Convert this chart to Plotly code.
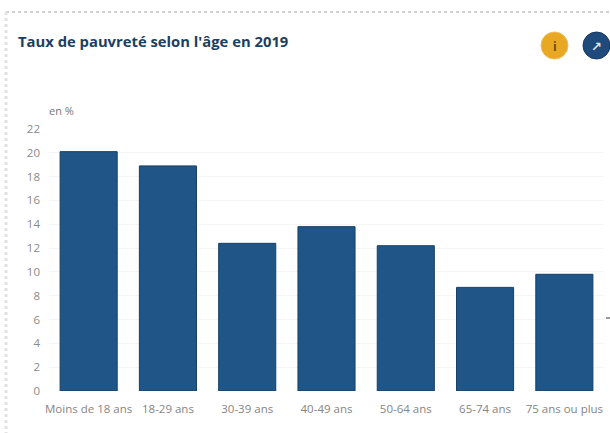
import plotly.graph_objects as go

categories = ["Moins de 18 ans", "18-29 ans", "30-39 ans", "40-49 ans",
              "50-64 ans", "65-74 ans", "75 ans ou plus"]
taux = [20.1, 18.9, 12.4, 13.8, 12.2, 8.7, 9.8]
ticks = list(range(0, 23, 2))

W, H = 610, 433
L, R, T, B = 49, 6, 129, 42


# Convert page pixels into the plot-area fractions used by paper references
def px(x):
    return (x - L) / (W - L - R)


def py(y):
    return 1 - (y - T) / (H - T - B)


fig = go.Figure(go.Bar(
    x=categories, y=taux, width=0.72,
    marker=dict(color="#1f5687", line=dict(color="#163f66", width=1)),
))

shapes = [
    # card border, top and left edges
    dict(type="line", xref="paper", yref="paper", x0=px(6), x1=px(610), y0=py(12), y1=py(12),
         line=dict(color="#d2d2d2", width=2, dash="dot")),
    dict(type="line", xref="paper", yref="paper", x0=px(6), x1=px(6), y0=py(12), y1=py(433),
         line=dict(color="#e2e2e2", width=3, dash="dot")),
    # info and link buttons
    dict(type="circle", xref="paper", yref="paper", x0=px(541), x1=px(568), y0=py(32), y1=py(59),
         fillcolor="#e8a823", line=dict(color="#efbd55", width=1)),
    dict(type="circle", xref="paper", yref="paper", x0=px(583), x1=px(610), y0=py(32), y1=py(59),
         fillcolor="#1f4a7c", line=dict(color="#153a63", width=1)),
    # small mark on the right edge
    dict(type="line", xref="paper", yref="paper", x0=px(606), x1=px(610), y0=py(318), y1=py(318),
         line=dict(color="#333333", width=1)),
]

annotations = [
    dict(text="<b>Taux de pauvreté selon l'âge en 2019</b>", x=px(16), y=py(41), xref="paper", yref="paper",
         xanchor="left", yanchor="middle", showarrow=False,
         font=dict(family="Open Sans", size=14.8, color="#1c3f5f")),
    dict(text="en %", x=px(47), y=py(110), xref="paper", yref="paper",
         xanchor="left", yanchor="middle", showarrow=False,
         font=dict(family="Open Sans", size=11, color="#767676")),
    dict(text="<b>i</b>", x=px(554.5), y=py(46), xref="paper", yref="paper",
         xanchor="center", yanchor="middle", showarrow=False,
         font=dict(family="Open Sans", size=12, color="#6b4c10")),
    dict(text="<b>↗</b>", x=px(596.5), y=py(46), xref="paper", yref="paper",
         xanchor="center", yanchor="middle", showarrow=False,
         font=dict(family="DejaVu Sans", size=13, color="#dbe6f0")),
]

fig.update_layout(
    width=W, height=H, margin=dict(l=L, r=R, t=T, b=B),
    paper_bgcolor="#ffffff", plot_bgcolor="#ffffff",
    showlegend=False, shapes=shapes, annotations=annotations,
    xaxis=dict(type="category", showgrid=False, showline=False, ticks="",
               ticklabelstandoff=9,
               tickfont=dict(family="Open Sans", size=11.5, color="#858585"), tickangle=0),
    yaxis=dict(range=[0, 22], tickvals=ticks, showline=False, zeroline=False, ticks="",
               gridcolor="#f5f5f5", gridwidth=1, ticklabelstandoff=8,
               tickfont=dict(family="Open Sans", size=11.5, color="#8a8a8a")),
)

fig.write_html("out.html")
